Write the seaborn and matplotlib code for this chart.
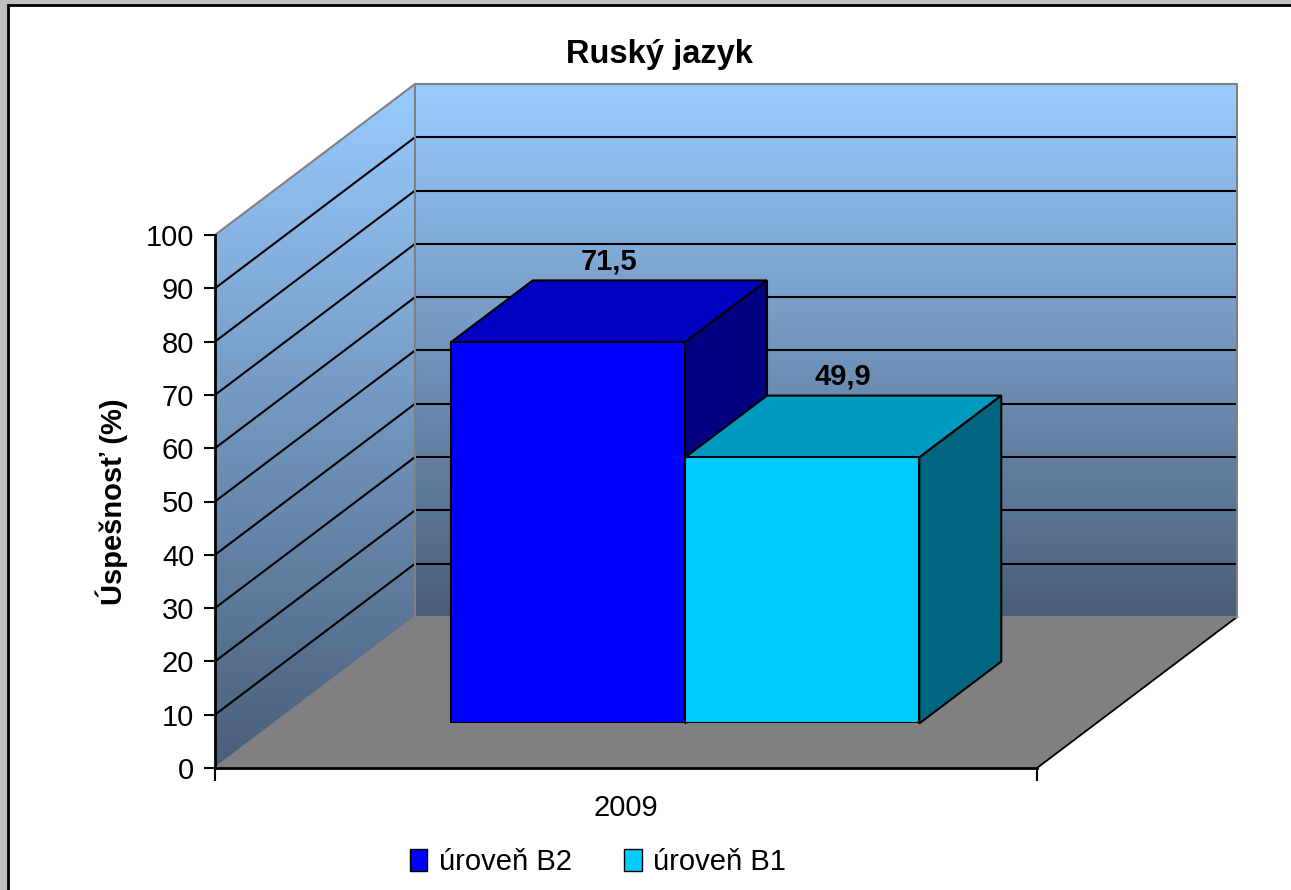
import numpy as np
import pandas as pd
import seaborn as sns
import matplotlib.pyplot as plt
from matplotlib.patches import Polygon, Rectangle, Patch
from matplotlib.colors import to_rgb

# chart data
years = ['2009']
levels = ['úroveň B2', 'úroveň B1']
scores = [71.5, 49.9]
score_labels = ['71,5', '49,9']
y_ticks = list(range(0, 101, 10))

front_colors = ['#0000FF', '#00CCFF']
top_colors = ['#0000C0', '#0099C0']
side_colors = ['#000080', '#006680']

title = 'Ruský jazyk'
y_label = 'Úspešnosť (%)'

# layout of the fake 3d box (pixels of the 1291x890 picture)
W, H = 1291, 890
FRONT_L, FRONT_R, FRONT_B, FRONT_T = 215, 1037, 768, 235
DEPTH_PX = (200, 151)
BAR_D0, BAR_DEPTH = 0.295, 0.41
BAR_WIDTH = 0.57

sns.set_theme(style='white')
plt.rcParams['font.family'] = ['Liberation Sans', 'DejaVu Sans']
plt.rcParams['text.color'] = 'black'

fig = plt.figure(figsize=(W / 100, H / 100), dpi=100)
fig.patch.set_facecolor('#C0C0C0')
fig.add_artist(Rectangle((8 / W, -0.05), 1.1, 1 - 5 / H + 0.05, transform=fig.transFigure,
                         fc='white', ec='black', lw=2, zorder=-10))

# axes 1 = front plane of the floor (ticks, walls, floor)
pos1 = [FRONT_L / W, 1 - FRONT_B / H, (FRONT_R - FRONT_L) / W, (FRONT_B - FRONT_T) / H]
ax1 = fig.add_axes(pos1)
ax1.set_facecolor('none')
ddx = DEPTH_PX[0] / (FRONT_R - FRONT_L)
ddy = DEPTH_PX[1] / (FRONT_B - FRONT_T) * 100


def gradient(n=256):
    top = np.array(to_rgb('#99CCFF'))
    bottom = np.array(to_rgb('#4A5E7A'))
    t = np.linspace(0, 1, n)[:, None]
    return (top * (1 - t) + bottom * t)[:, None, :]


# back wall
ax1.imshow(gradient(), extent=[-0.5 + ddx, 0.5 + ddx, ddy, 100 + ddy], aspect='auto',
           origin='upper', clip_on=False, zorder=0)
# side wall, clipped to its parallelogram
side_poly = Polygon([(-0.5, 0), (-0.5, 100), (-0.5 + ddx, 100 + ddy), (-0.5 + ddx, ddy)],
                    transform=ax1.transData)
im = ax1.imshow(gradient(), extent=[-0.5, -0.5 + ddx, 0, 100 + ddy], aspect='auto',
                origin='upper', clip_path=side_poly, zorder=0)
im.set_clip_box(fig.bbox)
ax1.set_xlim(-0.5, 0.5)
ax1.set_ylim(0, 100)

# floor
ax1.add_patch(Polygon([(-0.5, 0), (0.5, 0), (0.5 + ddx, ddy), (-0.5 + ddx, ddy)],
                      fc='#808080', ec='none', clip_on=False, zorder=1))
ax1.plot([0.5, 0.5 + ddx], [0, ddy], color='black', lw=1.3, clip_on=False, zorder=2)

# gridlines on back and side wall
for v in y_ticks[1:-1]:
    ax1.plot([-0.5 + ddx, 0.5 + ddx], [v + ddy, v + ddy], color='black', lw=1.5,
             clip_on=False, zorder=2)
    ax1.plot([-0.5, -0.5 + ddx], [v, v + ddy], color='black', lw=1.5, clip_on=False, zorder=2)

# grey wall edges
edge_kw = dict(color='#808080', lw=1.5, clip_on=False, zorder=2)
ax1.plot([-0.5, -0.5 + ddx, 0.5 + ddx, 0.5 + ddx], [100, 100 + ddy, 100 + ddy, ddy], **edge_kw)
ax1.plot([-0.5 + ddx, -0.5 + ddx], [ddy, 100 + ddy], **edge_kw)
ax1.plot([-0.5, -0.5 + ddx, 0.5 + ddx], [0, ddy, ddy], **edge_kw)

# axes lines and ticks
for s in ['top', 'right']:
    ax1.spines[s].set_visible(False)
for s in ['left', 'bottom']:
    ax1.spines[s].set_color('black')
    ax1.spines[s].set_linewidth(2)
    ax1.spines[s].set_zorder(3)
ax1.set_yticks(y_ticks)
ax1.tick_params(axis='y', left=True, length=8, width=1.5, pad=7, labelsize=21,
                colors='black', direction='out')
ax1.set_xticks([0])
ax1.set_xticklabels(years)
ax1.set_xticks([-0.5, 0.5], minor=True)
ax1.tick_params(axis='x', which='major', bottom=False, pad=13, labelsize=21, colors='black')
ax1.tick_params(axis='x', which='minor', bottom=True, length=9, width=1.5, color='black')
ax1.set_xlabel('')
ax1.set_ylabel('')

# axes 2 = plane of the bar fronts, shifted back into the box
pos2 = [pos1[0] + BAR_D0 * DEPTH_PX[0] / W, pos1[1] + BAR_D0 * DEPTH_PX[1] / H, pos1[2], pos1[3]]
ax2 = fig.add_axes(pos2)
ax2.set_facecolor('none')

df = pd.DataFrame({'rok': years * len(levels), 'úroveň': levels, 'úspešnosť': scores})
sns.barplot(data=df, x='rok', y='úspešnosť', hue='úroveň', hue_order=levels,
            palette=front_colors, width=BAR_WIDTH, saturation=1, edgecolor='black',
            linewidth=1.5, legend=False, ax=ax2, zorder=3)
ax2.set_xlim(-0.5, 0.5)
ax2.set_ylim(0, 100)
ax2.axis('off')

bdx = BAR_DEPTH * ddx
bdy = BAR_DEPTH * ddy
bars = sorted([p for p in ax2.patches if p.get_height() > 0], key=lambda p: p.get_x())
for i, bar in enumerate(bars):
    x0 = bar.get_x()
    x1 = x0 + bar.get_width()
    h = bar.get_height()
    ax2.add_patch(Polygon([(x0, h), (x1, h), (x1 + bdx, h + bdy), (x0 + bdx, h + bdy)],
                          fc=top_colors[i], ec='black', lw=1.5, clip_on=False, zorder=1 + 0.1 * i))
    ax2.add_patch(Polygon([(x1, 0), (x1, h), (x1 + bdx, h + bdy), (x1 + bdx, bdy)],
                          fc=side_colors[i], ec='black', lw=1.5, clip_on=False, zorder=1 + 0.1 * i))
    ax2.text((x0 + x1) / 2 + bdx / 2, h + bdy + 2, score_labels[i], ha='center', va='baseline',
             fontsize=21, fontweight='bold', color='black', zorder=5)

# texts
fig.text(659 / W, 1 - 55 / H, title, ha='center', va='center', fontsize=23.5, fontweight='bold')
fig.text(112 / W, 1 - 502 / H, y_label, rotation=90, ha='center', va='center',
         fontsize=21, fontweight='bold')

handles = [Patch(fc=c, ec='black', lw=1) for c in front_colors]
fig.legend(handles, levels, loc='center', bbox_to_anchor=(598 / W, 1 - 862 / H), ncol=2,
           frameon=False, fontsize=21, handlelength=0.6, handleheight=0.8,
           handletextpad=0.4, columnspacing=1.8)

fig.savefig('out.png', dpi=100, facecolor=fig.get_facecolor())
